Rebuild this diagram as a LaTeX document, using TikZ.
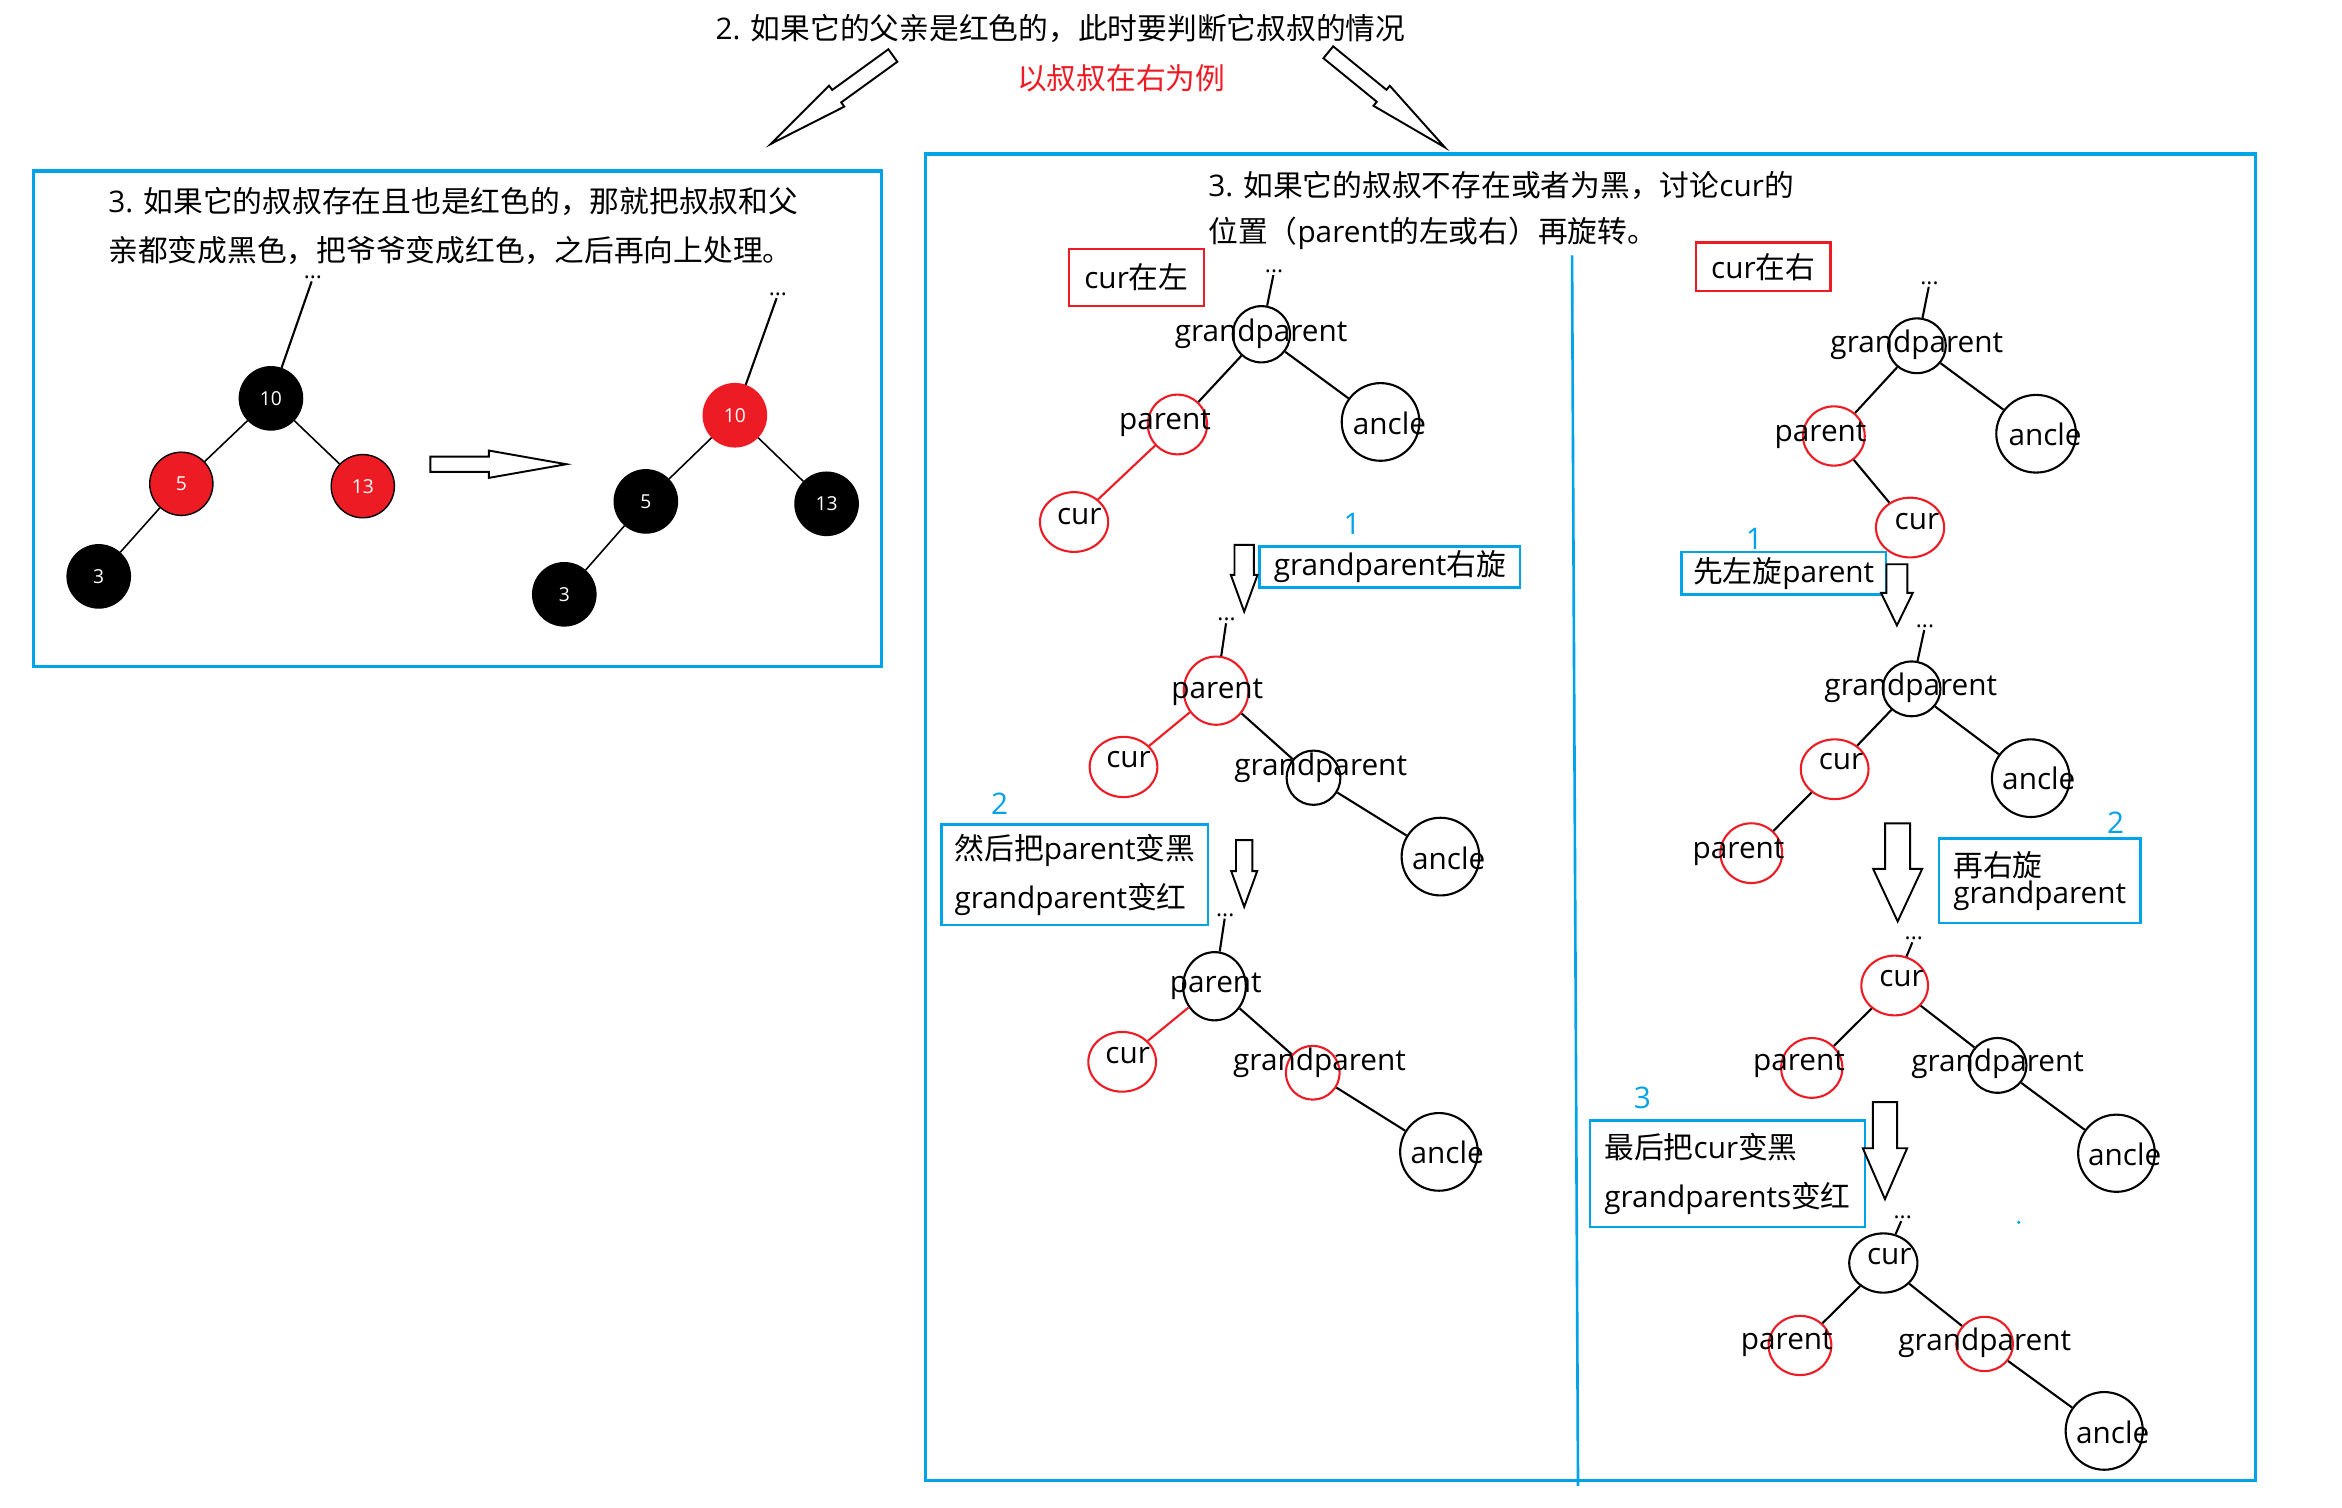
\documentclass[tikz,border=0pt]{standalone}
\usepackage{fontspec}
\setmainfont{Open Sans}
\newfontfamily\zhfont{Noto Sans CJK SC}
\newcommand{\zh}[1]{{\zhfont #1}}
\usepackage{tikz}
\usetikzlibrary{shapes,arrows,calc}
\definecolor{rbred}{RGB}{237,28,36}
\definecolor{boxblue}{RGB}{0,162,232}

\begin{document}
\begin{tikzpicture}[x=0.03cm,y=-0.03cm,
    every node/.style={font=\fontsize{17}{20}\selectfont,inner sep=0pt},
    edge/.style={line width=1.2pt},
    dotsnode/.style={font=\fontsize{13}{13}\selectfont,inner sep=1pt},
    num/.style={circle,minimum size=1.27cm,draw=black,line width=0.8pt,text=white,font=\fontsize{11}{12}\selectfont},
    ring/.style 2 args={ellipse,draw,line width=1.2pt,minimum width=#1,minimum height=#2},
    stepno/.style={text=boxblue},
    bluebox/.style 2 args={draw=boxblue,line width=1.4pt,minimum width=#1,minimum height=#2,align=left},
    redbox/.style 2 args={draw=rbred,line width=1.4pt,minimum width=#1,minimum height=#2},
    hollow/.style={single arrow,draw=black,fill=white,line width=1.1pt,anchor=tail,inner xsep=0pt}]
  \useasboundingbox (0,0) rectangle (1568,1009);

  % heading and the two ways down
  \node (head) at (710,19) {2. \zh{如果它的父亲是红色的，此时要判断它叔叔的情况}};
  \node[text=rbred] (example) at (750.6,52.4) {\zh{以叔叔在右为例}};
  \node[hollow,rotate=215.9,minimum height=3.03cm,inner ysep=0.135cm,
    single arrow head extend=0.105cm,single arrow tip angle=18] (toleft) at (598.3,36.8) {};
  \node[hollow,rotate=-39.2,minimum height=3.02cm,inner ysep=0.135cm,
    single arrow head extend=0.105cm,single arrow tip angle=18] (toright) at (888.8,34.6) {};

  % uncle is red
  \begin{scope}
    \draw[boxblue,line width=1.8pt] (22.3,114.5) rectangle (590,446.5);
    \node[anchor=west] (same1) at (72.3,135) {3. \zh{如果它的叔叔存在且也是红色的，那就把叔叔和父}};
    \node[anchor=west] (same2) at (72.3,168) {\zh{亲都变成黑色，把爷爷变成红色，之后再向上处理。}};
    % before
    \node[dotsnode] (bdots) at (209.5,186) {...};
    \node[num,fill=black] (b10) at (181.4,266.7) {10};
    \node[num,fill=rbred] (b5) at (121.4,323.9) {5};
    \node[num,fill=rbred] (b13) at (242.9,325.5) {13};
    \node[num,fill=black] (b3) at (66.1,385.9) {3};
    \draw[edge] (bdots) -- (b10);
    \draw[edge,line width=0.9pt] (b10) -- (b5) (b10) -- (b13) (b5) -- (b3);
    \node[hollow,minimum height=2.73cm,inner ysep=0.135cm,
      single arrow head extend=0.12cm,single arrow tip angle=20] (recolor) at (287.5,310.8) {};
    % after
    \node[dotsnode] (adots) at (520.8,197.2) {...};
    \node[num,fill=rbred,draw=rbred] (a10) at (492,278) {10};
    \node[num,fill=black] (a5) at (432.4,335.7) {5};
    \node[num,fill=black] (a13) at (553.4,337.3) {13};
    \node[num,fill=black] (a3) at (377.8,397.9) {3};
    \draw[edge] (adots) -- (a10);
    \draw[edge,line width=0.9pt] (a10) -- (a5) (a10) -- (a13) (a5) -- (a3);
  \end{scope}

  % uncle missing or black
  \begin{scope}
    \draw[boxblue,line width=1.8pt] (619.8,103.1) rectangle (1510,991.3);
    \draw[boxblue,line width=1.5pt] (1052.5,171) -- (1056.5,995);
    \node[anchor=west] (rot1) at (808.7,124.3) {3. \zh{如果它的叔叔不存在或者为黑，讨论}cur\zh{的}};
    \node[anchor=west] (rot2) at (808.7,155.9) {\zh{位置（}parent\zh{的左或右）再旋转。}};
  \end{scope}

  % cur on the left
  \begin{scope}
    \node[redbox={2.71cm}{1.15cm}] (leftcase) at (760.8,185.8) {cur\zh{在左}};
    % first tree
    \node[dotsnode] (l1dots) at (853,181.7) {...};
    \node[ring={1.15cm}{1.13cm}] (l1gp) at (844.5,223.8) {};
    \node[ring={1.19cm}{1.2cm},draw=rbred] (l1par) at (788.3,284.2) {};
    \node[ring={1.56cm}{1.56cm}] (l1unc) at (924.3,282.5) {};
    \node[ring={1.37cm}{1.2cm},draw=rbred] (l1cur) at (719.1,349.5) {};
    \node (l1gpt) at (844.3,223.6) {grandparent};
    \node (l1part) at (780,283.4) {parent};
    \node (l1unct) at (930.2,283.4) {ancle};
    \node (l1curt) at (722.6,345.5) {cur};
    \draw[edge] (l1dots) -- (l1gp);
    \draw[edge] (l1gp) -- (l1par) (l1gp) -- (l1unc);
    \draw[edge,rbred] (l1par) -- (l1cur);
    % step 1
    \node[stepno] (l1no) at (905.3,351) {1};
    \node[bluebox={5.23cm}{0.82cm}] (l1box) at (930.5,379.6) {grandparent\zh{右旋}};
    \node[hollow,rotate=-90,minimum height=1.34cm,inner ysep=0.175cm,
      single arrow head extend=0.075cm,single arrow tip angle=40] (l1arr) at (833,364.2) {};
    % second tree
    \node[dotsnode] (l2dots) at (821.2,414.9) {...};
    \node[ring={1.3cm}{1.37cm},draw=rbred] (l2par) at (814.2,462.4) {};
    \node[ring={1.36cm}{1.21cm},draw=rbred] (l2cur) at (752.2,513.5) {};
    \node[ring={1.08cm}{1.09cm}] (l2gp) at (879.4,520.7) {};
    \node[ring={1.56cm}{1.56cm}] (l2unc) at (964.4,573.5) {};
    \node (l2part) at (815,463.4) {parent};
    \node (l2curt) at (755.6,508.8) {cur};
    \node (l2gpt) at (884.2,514.1) {grandparent};
    \node (l2unct) at (969.9,574.5) {ancle};
    \draw[edge] (l2dots) -- (l2par);
    \draw[edge,rbred] (l2par) -- (l2cur);
    \draw[edge] (l2par) -- (l2gp) (l2gp) -- (l2unc);
    % step 2
    \node[stepno] (l2no) at (669.3,538.3) {2};
    \node[bluebox={5.35cm}{2.02cm},font=\fontsize{17}{27.6}\selectfont] (l2box) at (719.6,585.8)
      {\zh{然后把}parent\zh{变黑}\\grandparent\zh{变红}};
    \node[hollow,rotate=-90,minimum height=1.34cm,inner ysep=0.145cm,
      single arrow head extend=0.096cm,single arrow tip angle=40] (l2arr) at (833,561.8) {};
    % third tree
    \node[dotsnode] (l3dots) at (820.3,612.6) {...};
    \node[ring={1.26cm}{1.37cm}] (l3par) at (813.1,660.3) {};
    \node[ring={1.36cm}{1.2cm},draw=rbred] (l3cur) at (751.3,710.9) {};
    \node[ring={1.08cm}{1.08cm},draw=rbred] (l3gp) at (878.9,718.2) {};
    \node[ring={1.56cm}{1.56cm}] (l3unc) at (963.4,771.2) {};
    \node (l3part) at (814,660.5) {parent};
    \node (l3curt) at (755,706.6) {cur};
    \node (l3gpt) at (883.4,711.2) {grandparent};
    \node (l3unct) at (968.9,771.6) {ancle};
    \draw[edge] (l3dots) -- (l3par);
    \draw[edge,rbred] (l3par) -- (l3cur);
    \draw[edge] (l3par) -- (l3gp) (l3gp) -- (l3unc);
  \end{scope}

  % cur on the right
  \begin{scope}
    \node[redbox={2.7cm}{0.97cm}] (rightcase) at (1180.5,178.6) {cur\zh{在右}};
    % first tree
    \node[dotsnode] (r1dots) at (1291.8,189.6) {...};
    \node[ring={1.16cm}{1.1cm}] (r1gp) at (1283.4,231.5) {};
    \node[ring={1.24cm}{1.19cm},draw=rbred] (r1par) at (1227.8,291.9) {};
    \node[ring={1.6cm}{1.56cm}] (r1unc) at (1363.2,290.4) {};
    \node[ring={1.37cm}{1.2cm},draw=rbred] (r1cur) at (1278.8,353.2) {};
    \node (r1gpt) at (1283.3,231.1) {grandparent};
    \node (r1part) at (1218.9,291.3) {parent};
    \node (r1unct) at (1369.2,291) {ancle};
    \node (r1curt) at (1283.4,349) {cur};
    \draw[edge] (r1dots) -- (r1gp);
    \draw[edge] (r1gp) -- (r1par) (r1gp) -- (r1unc) (r1par) -- (r1cur);
    % step 1
    \node[stepno] (r1no) at (1174.6,360.5) {1};
    \node[bluebox={4.1cm}{0.86cm}] (r1box) at (1194.2,383.8) {\zh{先左旋}parent};
    \node[hollow,rotate=-90,minimum height=1.23cm,inner ysep=0.19cm,
      single arrow head extend=0.11cm,single arrow tip angle=52] (r1arr) at (1270,377.1) {};
    % second tree
    \node[dotsnode] (r2dots) at (1288.8,419.4) {...};
    \node[ring={1.16cm}{1.1cm}] (r2gp) at (1279.8,461.2) {};
    \node[ring={1.36cm}{1.2cm},draw=rbred] (r2cur) at (1228.3,515) {};
    \node[ring={1.56cm}{1.56cm}] (r2unc) at (1359.6,521) {};
    \node[ring={1.24cm}{1.2cm},draw=rbred] (r2par) at (1172.5,571.2) {};
    \node (r2gpt) at (1279.3,460.4) {grandparent};
    \node (r2curt) at (1232.6,510) {cur};
    \node (r2unct) at (1365,521.4) {ancle};
    \node (r2part) at (1164,570.7) {parent};
    \draw[edge] (r2dots) -- (r2gp);
    \draw[edge] (r2gp) -- (r2cur) (r2gp) -- (r2unc) (r2cur) -- (r2par);
    % step 2
    \node[stepno] (r2no) at (1416.4,550.6) {2};
    \node[bluebox={4.05cm}{1.7cm},font=\fontsize{17}{15.5}\selectfont] (r2box) at (1365.6,589.7)
      {\zh{再右旋}\\grandparent};
    \node[hollow,rotate=-90,minimum height=1.97cm,inner ysep=0.2325cm,
      single arrow head extend=0.24cm,single arrow tip angle=50] (r2arr) at (1270.5,550.6) {};
    % third tree
    \node[dotsnode] (r3dots) at (1281.3,628.5) {...};
    \node[ring={1.34cm}{1.2cm},draw=rbred] (r3cur) at (1268.5,659.8) {};
    \node[ring={1.23cm}{1.2cm},draw=rbred] (r3par) at (1213,715) {};
    \node[ring={1.16cm}{1.1cm}] (r3gp) at (1337.4,713.3) {};
    \node[ring={1.54cm}{1.55cm}] (r3unc) at (1417,772.1) {};
    \node (r3curt) at (1273.1,655.1) {cur};
    \node (r3part) at (1204.4,712.2) {parent};
    \node (r3gpt) at (1337.4,712.2) {grandparent};
    \node (r3unct) at (1422.5,772.9) {ancle};
    \draw[edge] (r3dots) -- (r3cur);
    \draw[edge] (r3cur) -- (r3par) (r3cur) -- (r3gp) (r3gp) -- (r3unc);
    % step 3
    \node[stepno] (r3no) at (1099.6,735) {3};
    \node[bluebox={5.52cm}{2.14cm},font=\fontsize{17}{27.6}\selectfont] (r3box) at (1156.6,785.9)
      {\zh{最后把}cur\zh{变黑}\\grandparents\zh{变红}};
    \node[hollow,rotate=-90,minimum height=1.95cm,inner ysep=0.225cm,
      single arrow head extend=0.2cm,single arrow tip angle=47] (r3arr) at (1262,737.2) {};
    \fill[boxblue] (1351.6,818.4) circle (1pt);
    % fourth tree
    \node[dotsnode] (r4dots) at (1273.9,815.1) {...};
    \node[ring={1.37cm}{1.19cm}] (r4cur) at (1260.9,845.6) {};
    \node[ring={1.26cm}{1.19cm},draw=rbred] (r4par) at (1205.1,900.8) {};
    \node[ring={1.14cm}{1.09cm},draw=rbred] (r4gp) at (1328.7,899.8) {};
    \node[ring={1.55cm}{1.56cm}] (r4unc) at (1408.8,958) {};
    \node (r4curt) at (1264.9,841) {cur};
    \node (r4part) at (1196.3,899.5) {parent};
    \node (r4gpt) at (1328.8,898.9) {grandparent};
    \node (r4unct) at (1414.5,958.9) {ancle};
    \draw[edge] (r4dots) -- (r4cur);
    \draw[edge] (r4cur) -- (r4par) (r4cur) -- (r4gp) (r4gp) -- (r4unc);
  \end{scope}
\end{tikzpicture}
\end{document}
